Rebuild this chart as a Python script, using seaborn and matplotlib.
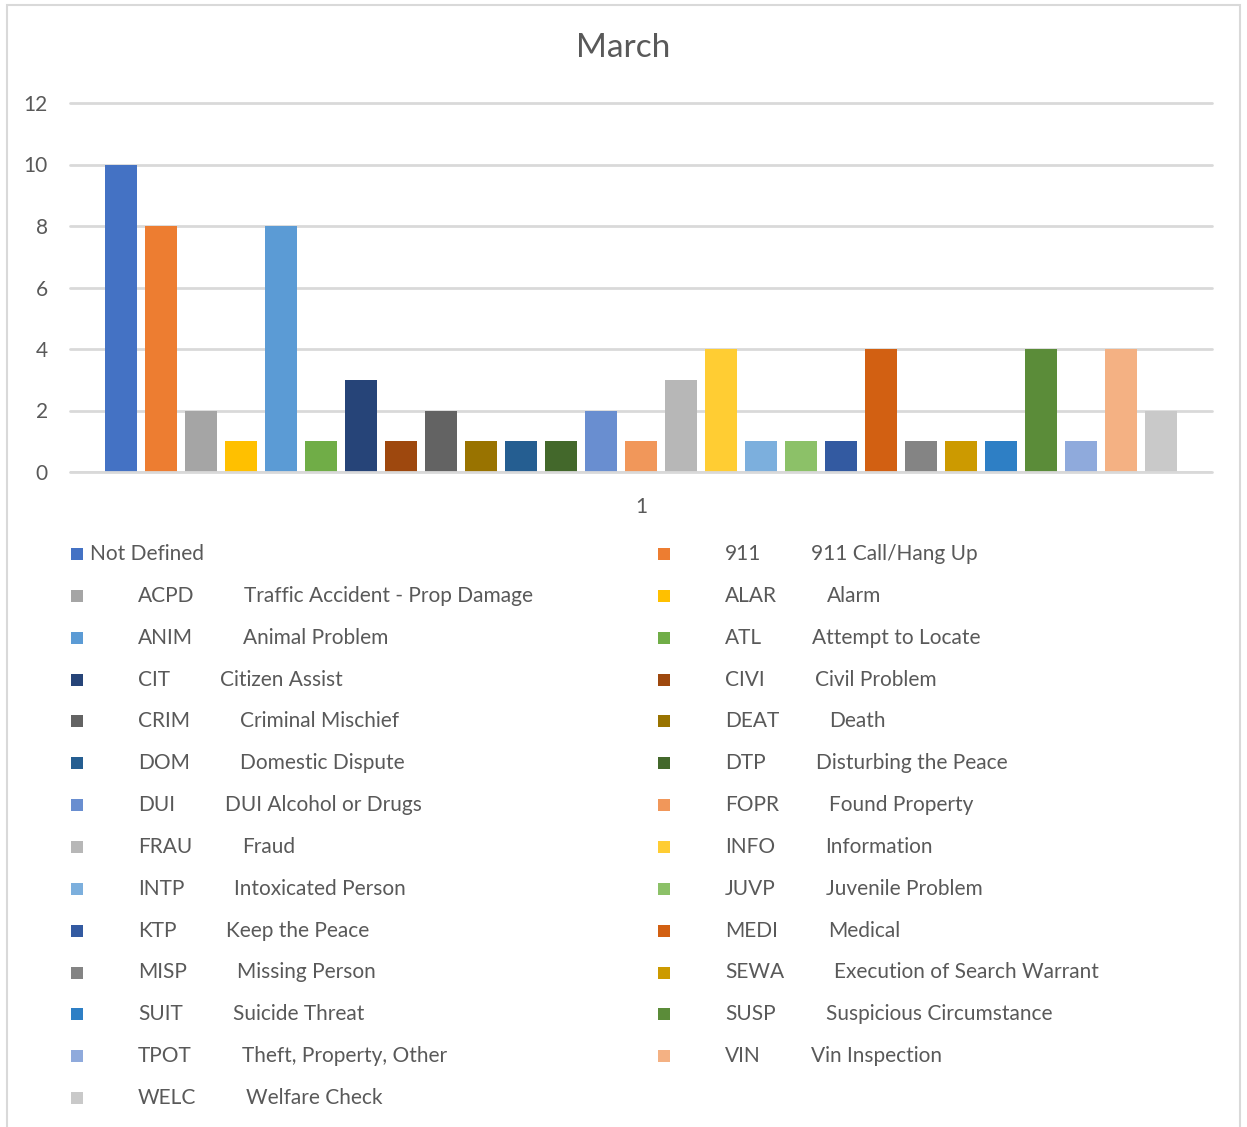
import matplotlib
matplotlib.use("Agg")
import matplotlib.pyplot as plt
from matplotlib.patches import Rectangle
import pandas as pd
import seaborn as sns

W, H = 1247, 1127

codes = ["", "911", "ACPD", "ALAR", "ANIM", "ATL", "CIT", "CIVI", "CRIM",
         "DEAT", "DOM", "DTP", "DUI", "FOPR", "FRAU", "INFO", "INTP", "JUVP",
         "KTP", "MEDI", "MISP", "SEWA", "SUIT", "SUSP", "TPOT", "VIN", "WELC"]
descriptions = ["Not Defined", "911 Call/Hang Up", "Traffic Accident - Prop Damage",
                "Alarm", "Animal Problem", "Attempt to Locate", "Citizen Assist",
                "Civil Problem", "Criminal Mischief", "Death", "Domestic Dispute",
                "Disturbing the Peace", "DUI Alcohol or Drugs", "Found Property",
                "Fraud", "Information", "Intoxicated Person", "Juvenile Problem",
                "Keep the Peace", "Medical", "Missing Person",
                "Execution of Search Warrant", "Suicide Threat",
                "Suspicious Circumstance", "Theft, Property, Other",
                "Vin Inspection", "Welfare Check"]
counts = [10, 8, 2, 1, 8, 1, 3, 1, 2, 1, 1, 1, 2, 1, 3, 4, 1, 1, 1, 4, 1, 1, 1,
          4, 1, 4, 2]
colors = ["#4472C4", "#ED7D31", "#A5A5A5", "#FFC000", "#5B9BD5", "#70AD47",
          "#264478", "#9E480E", "#636363", "#997300", "#255E91", "#43682B",
          "#698ED0", "#F1975A", "#B7B7B7", "#FFCD33", "#7CAFDD", "#8CC168",
          "#335AA1", "#D26012", "#848484", "#CC9A00", "#2E7FC5", "#5B8C39",
          "#8FAADC", "#F4B183", "#C9C9C9"]
category = "1"
title = "March"
yticks = [0, 2, 4, 6, 8, 10, 12]

series = [d if c == "" else c + " " + d for c, d in zip(codes, descriptions)]
df = pd.DataFrame({"cat": [category] * len(counts), "series": series, "count": counts})

sns.set_theme(style="white")
plt.rcParams["font.family"] = ["Lato", "DejaVu Sans"]
text_color = "#595959"
grid_color = "#d9d9d9"
fs = 15

fig = plt.figure(figsize=(W / 100, H / 100), dpi=100)
fig.patch.set_facecolor("white")
fig.patches.append(Rectangle((7 / W, -0.01), 1233 / W, 1 - 5 / H + 0.01,
                             transform=fig.transFigure, fill=False,
                             edgecolor=grid_color, linewidth=1.5))

ax = fig.add_axes([70 / W, (H - 472) / H, 1142 / W, 369 / H])
sns.barplot(data=df, x="cat", y="count", hue="series", palette=colors,
            width=1080 / 1142, gap=0.2, saturation=1, ax=ax, legend=False,
            errorbar=None, linewidth=0)
ax.set_xlim(-0.5, 0.5)
ax.set_ylim(0, 12)
ax.set_yticks(yticks)
ax.set_xlabel("")
ax.set_ylabel("")
for s in ax.spines.values():
    s.set_visible(False)
ax.yaxis.grid(True, color=grid_color, linewidth=2)
ax.set_axisbelow(True)
for gl in ax.get_ygridlines():
    gl.set_clip_on(False)
ax.axhline(0, color=grid_color, linewidth=2, zorder=5)
ax.tick_params(axis="y", length=0, pad=16, labelsize=fs, labelcolor=text_color)
ax.tick_params(axis="x", length=0, pad=18, labelsize=fs, labelcolor=text_color)

fig.text(0.5, 1 - 48 / H, title, ha="center", va="center", fontsize=24,
         color=text_color)

# legend, two columns filled row by row
renderer = fig.canvas.get_renderer()
row_y0, row_step = 554, 41.85
for i, (code, desc, col) in enumerate(zip(codes, descriptions, colors)):
    row, side = divmod(i, 2)
    y = row_y0 + row * row_step
    mx = 71 if side == 0 else 658
    fig.patches.append(Rectangle((mx / W, 1 - (y + 6) / H), 12 / W, 12 / H,
                                 transform=fig.transFigure, facecolor=col,
                                 edgecolor="none"))
    if code == "":
        fig.text(90 / W, 1 - y / H, desc, ha="left", va="center",
                 fontsize=fs, color=text_color)
        continue
    cx = 138 if side == 0 else 725
    t = fig.text(cx / W, 1 - y / H, code, ha="left", va="center",
                 fontsize=fs, color=text_color)
    x1 = t.get_window_extent(renderer).x1
    fig.text((x1 + 50) / W, 1 - y / H, desc, ha="left", va="center",
             fontsize=fs, color=text_color)

fig.savefig("out.png", dpi=100, facecolor="white")
